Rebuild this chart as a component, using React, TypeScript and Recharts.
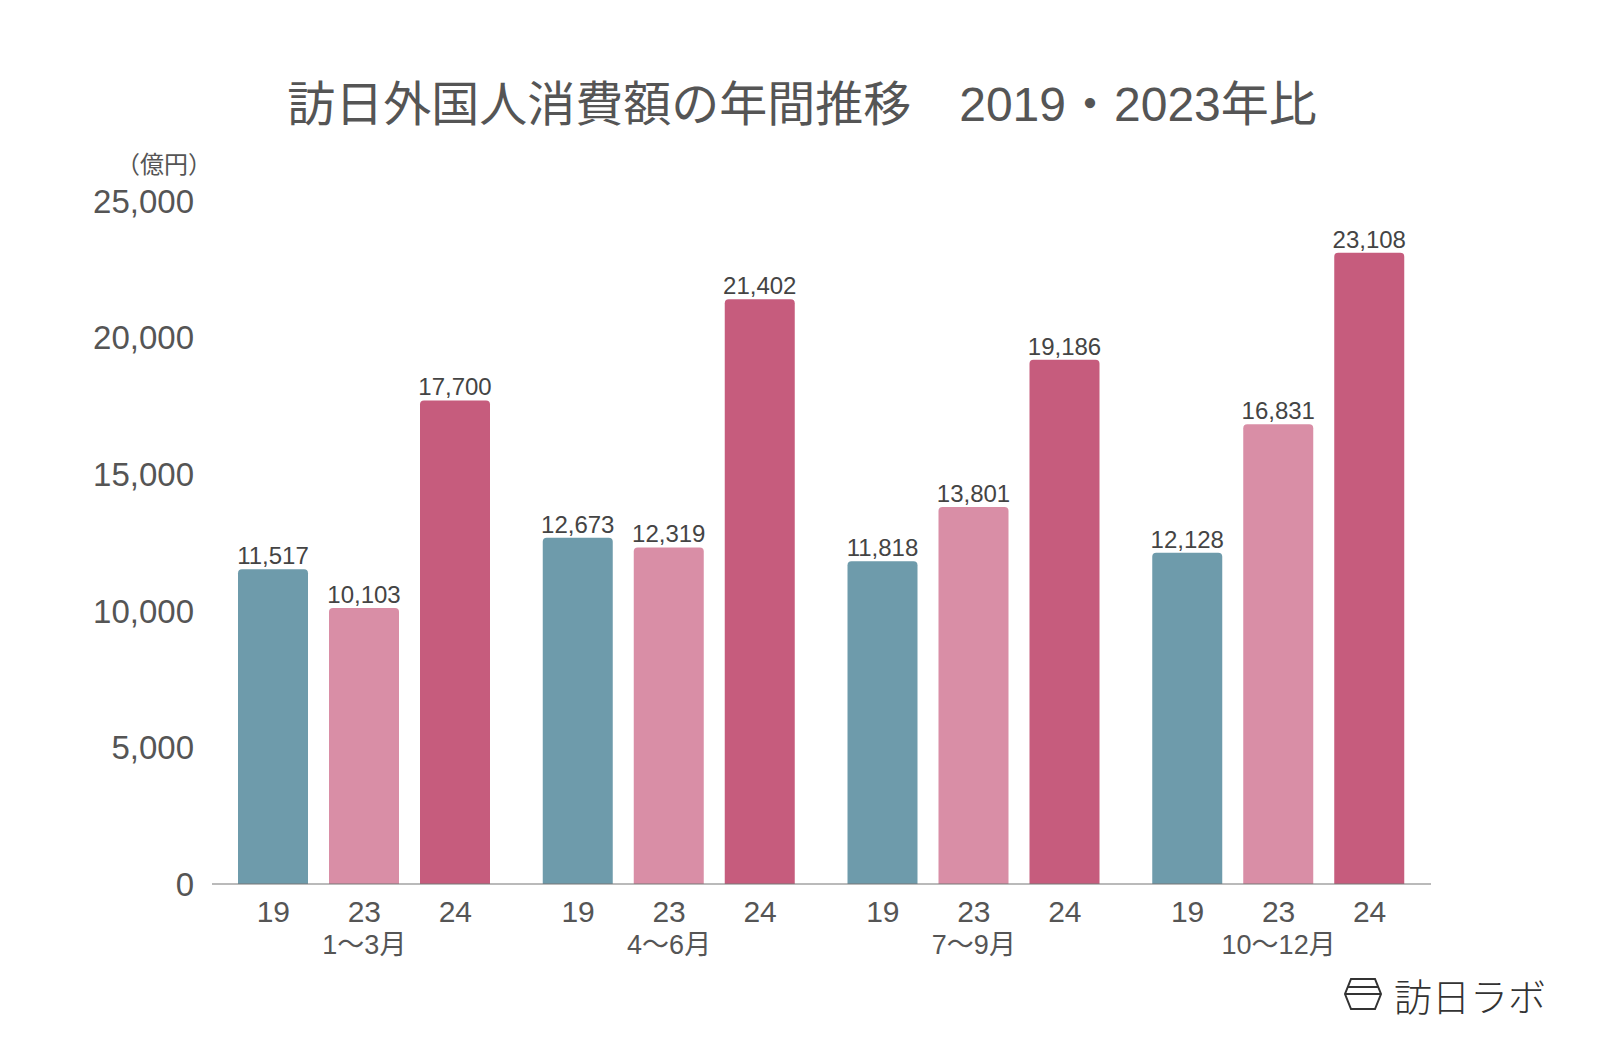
import React from "react";
import { BarChart, Bar, XAxis, YAxis, LabelList } from "recharts";

const quarters = ["1〜3月", "4〜6月", "7〜9月", "10〜12月"];
const years = ["19", "23", "24"];
const spend2019 = [11517, 12673, 11818, 12128];
const spend2023 = [10103, 12319, 13801, 16831];
const spend2024 = [17700, 21402, 19186, 23108];
const yTicks = [0, 5000, 10000, 15000, 20000, 25000];

const data = quarters.map((q, i) => ({
  quarter: q,
  y19: spend2019[i],
  y23: spend2023[i],
  y24: spend2024[i],
}));

const FONT = '"Liberation Sans", "Noto Sans CJK JP", sans-serif';
const JP_FONT = '"Noto Sans CJK JP", sans-serif';
const TEXT = "#555";
const BAR_SIZE = 70;
const BAR_GAP = 21;

const fmt = (v: number) => v.toLocaleString("en-US");

const QuarterTick = (props: any) => {
  const { x, y, payload } = props;
  const step = BAR_SIZE + BAR_GAP;
  return (
    <g fontFamily={FONT} fill={TEXT}>
      {years.map((yr, k) => (
        <text
          key={yr}
          x={x + (k - 1) * step}
          y={y + 30}
          textAnchor="middle"
          fontSize={30}
        >
          {yr}
        </text>
      ))}
      <text x={x} y={y + 62} textAnchor="middle" fontSize={27}>
        {payload.value}
      </text>
    </g>
  );
};

const App: React.FC = () => {
  return (
    <div
      style={{
        position: "absolute",
        left: 0,
        top: 0,
        width: 1600,
        height: 1048,
        background: "#fff",
        fontFamily: FONT,
      }}
    >
      <div
        style={{
          position: "absolute",
          left: 0,
          width: 1600,
          top: 65,
          textAlign: "center",
          fontSize: 48,
          color: TEXT,
          fontFamily: JP_FONT,
          marginLeft: 2,
        }}
      >
        訪日外国人消費額の年間推移　<span style={{ fontFamily: FONT }}>2019</span>・<span style={{ fontFamily: FONT }}>2023</span>年比
      </div>
      <div
        style={{
          position: "absolute",
          left: 116,
          top: 145,
          fontSize: 24,
          color: TEXT,
          fontFamily: JP_FONT,
        }}
      >
        （億円）
      </div>
      <BarChart
        width={1600}
        height={1048}
        data={data}
        margin={{ top: 201, right: 169, bottom: 74, left: 62 }}
        barSize={BAR_SIZE}
        barGap={BAR_GAP}
        barCategoryGap={25}
      >
        <XAxis
          dataKey="quarter"
          axisLine={{ stroke: "#777", strokeWidth: 1.2 }}
          tickLine={false}
          height={90}
          interval={0}
          tick={<QuarterTick />}
        />
        <YAxis
          width={150}
          domain={[0, 25000]}
          ticks={yTicks}
          axisLine={false}
          tickLine={false}
          tickMargin={12}
          tickFormatter={fmt}
          tick={{ fill: TEXT, fontSize: 33, fontFamily: FONT }}
        />
        <Bar dataKey="y19" fill="#6e9bab" radius={[4, 4, 0, 0]} isAnimationActive={false}>
          <LabelList dataKey="y19" position="top" offset={5} formatter={fmt} fill="#444" fontSize={24} fontFamily={FONT} />
        </Bar>
        <Bar dataKey="y23" fill="#d98ea6" radius={[4, 4, 0, 0]} isAnimationActive={false}>
          <LabelList dataKey="y23" position="top" offset={5} formatter={fmt} fill="#444" fontSize={24} fontFamily={FONT} />
        </Bar>
        <Bar dataKey="y24" fill="#c65c7d" radius={[4, 4, 0, 0]} isAnimationActive={false}>
          <LabelList dataKey="y24" position="top" offset={5} formatter={fmt} fill="#444" fontSize={24} fontFamily={FONT} />
        </Bar>
      </BarChart>
      <svg
        width={40}
        height={36}
        style={{ position: "absolute", left: 1343, top: 976 }}
      >
        <polygon
          points="8,3 32,3 38,18 32,33 8,33 2,18"
          fill="none"
          stroke="#333"
          strokeWidth={2}
        />
        <line x1={5} y1={11} x2={35} y2={11} stroke="#333" strokeWidth={2} />
        <line x1={2} y1={18} x2={38} y2={18} stroke="#333" strokeWidth={2} />
      </svg>
      <div
        style={{
          position: "absolute",
          left: 1394,
          top: 967,
          fontSize: 38,
          fontWeight: 300,
          color: "#333",
          fontFamily: JP_FONT,
        }}
      >
        訪日ラボ
      </div>
    </div>
  );
};

export default App;
